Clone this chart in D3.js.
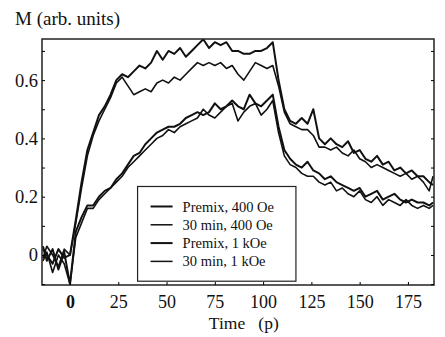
<!DOCTYPE html>
<html>
<head>
<meta charset="utf-8">
<script src="https://cdn.jsdelivr.net/npm/d3@7"></script>
<style>
  body { margin: 0; background: #fff; }
  svg { display: block; }
</style>
</head>
<body>
<div id="chart"></div>
<script>
'use strict';

const serif = '"Liberation Serif", "Times New Roman", "DejaVu Serif", serif';

const times = [-14, -12, -9, -6, -3, 0, 3, 6, 9, 12, 15, 18, 21, 24, 27, 30, 33, 36, 39, 42,
  45, 48, 51, 54, 57, 60, 63, 66, 69, 72, 75, 78, 81, 84, 87, 90, 93, 96, 99, 102,
  105, 108, 111, 114, 117, 120, 123, 126, 129, 132, 135, 138, 141, 144, 147, 150, 153, 156, 159, 162,
  165, 168, 171, 174, 177, 180, 183, 186, 188];

const premix400 = [0.02, 0.00, -0.03, 0.02, -0.01, 0.00, 0.12, 0.25, 0.36, 0.42, 0.48, 0.51, 0.55, 0.60, 0.62, 0.61, 0.63, 0.65, 0.64, 0.66,
  0.70, 0.67, 0.70, 0.69, 0.71, 0.68, 0.70, 0.72, 0.74, 0.71, 0.73, 0.72, 0.73, 0.70, 0.70, 0.69, 0.69, 0.70, 0.70, 0.71,
  0.73, 0.60, 0.50, 0.46, 0.45, 0.47, 0.45, 0.50, 0.40, 0.38, 0.40, 0.38, 0.37, 0.39, 0.35, 0.36, 0.33, 0.32, 0.34, 0.31,
  0.32, 0.29, 0.30, 0.28, 0.29, 0.27, 0.27, 0.25, 0.24];

const min30_400 = [-0.01, 0.03, 0.00, -0.04, 0.02, 0.00, 0.11, 0.23, 0.34, 0.41, 0.46, 0.50, 0.54, 0.59, 0.61, 0.58, 0.55, 0.56, 0.57, 0.56,
  0.59, 0.60, 0.59, 0.61, 0.60, 0.62, 0.64, 0.66, 0.65, 0.66, 0.65, 0.66, 0.64, 0.65, 0.62, 0.60, 0.63, 0.66, 0.65, 0.64,
  0.65, 0.58, 0.49, 0.45, 0.44, 0.43, 0.43, 0.41, 0.37, 0.37, 0.36, 0.37, 0.35, 0.34, 0.36, 0.33, 0.32, 0.30, 0.31, 0.30,
  0.29, 0.28, 0.27, 0.28, 0.26, 0.27, 0.25, 0.22, 0.27];

const premix1k = [0.03, -0.02, 0.02, -0.05, 0.01, -0.10, 0.08, 0.13, 0.17, 0.17, 0.20, 0.22, 0.23, 0.26, 0.28, 0.31, 0.34, 0.35, 0.38, 0.40,
  0.42, 0.43, 0.44, 0.44, 0.45, 0.47, 0.48, 0.49, 0.48, 0.49, 0.52, 0.50, 0.51, 0.53, 0.51, 0.50, 0.55, 0.52, 0.51, 0.53,
  0.55, 0.44, 0.36, 0.33, 0.31, 0.30, 0.32, 0.29, 0.28, 0.26, 0.27, 0.25, 0.24, 0.23, 0.22, 0.23, 0.20, 0.21, 0.22, 0.19,
  0.20, 0.21, 0.19, 0.18, 0.19, 0.18, 0.18, 0.17, 0.18];

const min30_1k = [-0.02, 0.01, -0.06, 0.00, -0.03, -0.10, 0.06, 0.11, 0.16, 0.16, 0.19, 0.21, 0.23, 0.25, 0.27, 0.30, 0.32, 0.34, 0.36, 0.38,
  0.40, 0.41, 0.43, 0.42, 0.44, 0.45, 0.46, 0.47, 0.50, 0.48, 0.47, 0.49, 0.51, 0.52, 0.46, 0.49, 0.51, 0.52, 0.48, 0.50,
  0.53, 0.42, 0.34, 0.31, 0.30, 0.28, 0.27, 0.27, 0.25, 0.24, 0.25, 0.22, 0.23, 0.21, 0.20, 0.22, 0.19, 0.18, 0.20, 0.17,
  0.19, 0.18, 0.17, 0.19, 0.17, 0.16, 0.17, 0.16, 0.17];

const seriesNames = ['Premix, 400 Oe', '30 min, 400 Oe', 'Premix, 1 kOe', '30 min, 1 kOe'];
const seriesValues = [premix400, min30_400, premix1k, min30_1k];
const xTicks = [0, 25, 50, 75, 100, 125, 150, 175];
const yTicks = [0, 0.2, 0.4, 0.6];
const yMinorTicks = [-0.1, 0, 0.1, 0.2, 0.3, 0.4, 0.5, 0.6, 0.7];

const totalWidth = 445;
const totalHeight = 337;
const margin = { top: 39, right: 11, bottom: 52, left: 42 };
const width = totalWidth - margin.left - margin.right;
const height = totalHeight - margin.top - margin.bottom;

const svg = d3.select('#chart')
  .append('svg')
  .attr('width', totalWidth)
  .attr('height', totalHeight)
  .append('g')
  .attr('transform', `translate(${margin.left}, ${margin.top})`);

const x = d3.scaleLinear()
  .domain([-14.5, 188.5])
  .range([0, width]);

const y = d3.scaleLinear()
  .domain([-0.103, 0.741])
  .range([height, 0]);

svg.append('clipPath')
  .attr('id', 'plot-clip')
  .append('rect')
  .attr('width', width)
  .attr('height', height);

// curves
const line = d3.line()
  .x((d) => x(d.t))
  .y((d) => y(d.v));

const plot = svg.append('g').attr('clip-path', 'url(#plot-clip)');

seriesValues.forEach((vals, i) => {
  const pts = times.map((t, j) => ({ t, v: vals[j] }));
  plot.append('path')
    .datum(pts)
    .attr('fill', 'none')
    .attr('stroke', '#111')
    .attr('stroke-width', i % 2 === 0 ? 2 : 1.6)
    .attr('stroke-linejoin', 'round')
    .attr('d', line);
});

// frame
svg.append('rect')
  .attr('width', width)
  .attr('height', height)
  .attr('fill', 'none')
  .attr('stroke', '#222')
  .attr('stroke-width', 1.5);

// inward minor ticks on left and right
const yTickLeft = d3.axisRight(y).tickValues(yMinorTicks).tickSize(3).tickFormat('');
svg.append('g').call(yTickLeft).call((g) => g.select('.domain').remove());
const yTickRight = d3.axisLeft(y).tickValues(yMinorTicks).tickSize(3).tickFormat('');
svg.append('g').attr('transform', `translate(${width}, 0)`).call(yTickRight)
  .call((g) => g.select('.domain').remove());

// y labels
const yAxis = d3.axisLeft(y).tickValues(yTicks).tickSize(0).tickPadding(4)
  .tickFormat((d) => (d === 0 ? '0' : d3.format('.1f')(d)));
svg.append('g')
  .call(yAxis)
  .call((g) => g.select('.domain').remove())
  .call((g) => g.selectAll('text')
    .style('font-family', serif)
    .style('font-size', '18.5px')
    .attr('fill', '#111'));

// x labels
const xAxis = d3.axisBottom(x).tickValues(xTicks).tickSize(3).tickPadding(7)
  .tickFormat(d3.format('d'));
svg.append('g')
  .attr('transform', `translate(0, ${height})`)
  .call(xAxis)
  .call((g) => g.select('.domain').remove())
  .call((g) => g.selectAll('line').attr('y2', -3))
  .call((g) => g.selectAll('text')
    .style('font-family', serif)
    .style('font-size', '18px')
    .style('font-weight', (d) => (d === 0 ? 'bold' : 'normal'))
    .attr('fill', '#111'));

// axis titles
svg.append('text')
  .attr('x', -margin.left + 15)
  .attr('y', -14)
  .style('font-family', serif)
  .style('font-size', '19px')
  .attr('fill', '#111')
  .text('M (arb.\u00a0units)');

svg.append('text')
  .attr('x', x(90))
  .attr('y', height + 44)
  .attr('text-anchor', 'middle')
  .style('font-family', serif)
  .style('font-size', '17.5px')
  .attr('fill', '#111')
  .text('Time\u00a0\u00a0 (p)');

// legend
const legendX = x(35);
const legendY = y(0.235);
const legendW = x(117) - x(35);
const legendH = y(-0.09) - y(0.235);

const legend = svg.append('g')
  .attr('transform', `translate(${legendX}, ${legendY})`);

legend.append('rect')
  .attr('width', legendW)
  .attr('height', legendH)
  .attr('fill', '#fff')
  .attr('stroke', '#222')
  .attr('stroke-width', 1.2);

seriesNames.forEach((name, i) => {
  const row = legend.append('g')
    .attr('transform', `translate(0, ${20 + i * 18.3})`);
  row.append('line')
    .attr('x1', 13)
    .attr('x2', 35)
    .attr('stroke', '#111')
    .attr('stroke-width', i % 2 === 0 ? 2 : 1.5);
  row.append('text')
    .attr('x', 45)
    .attr('dy', '0.35em')
    .style('font-family', serif)
    .style('font-size', '14.5px')
    .attr('fill', '#111')
    .text(name);
});
</script>
</body>
</html>
